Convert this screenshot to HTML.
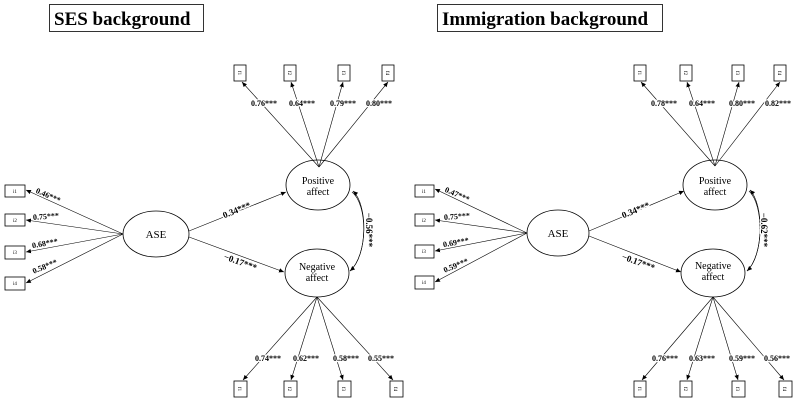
<!DOCTYPE html>
<html><head><meta charset="utf-8"><style>
body{margin:0;background:#fff}
svg{display:block}
text{font-family:"Liberation Serif",serif;fill:#000}
.b{font-weight:bold;font-size:8px;stroke:#fff;stroke-width:2.5px;paint-order:stroke;stroke-linejoin:round}
.s{font-size:5px}
.n{font-size:11px}
</style></head><body>
<svg width="797" height="407" viewBox="0 0 797 407" xmlns="http://www.w3.org/2000/svg">
<defs><marker id="a" markerWidth="6" markerHeight="6" refX="5" refY="3" orient="auto" markerUnits="userSpaceOnUse"><path d="M0,0.8 L5,3 L0,5.2z" fill="#000"/></marker></defs>
<g stroke="#000" fill="none" stroke-width="0.8">
<rect x="49.5" y="4.5" width="154" height="27"/>
<rect x="437.5" y="4.5" width="225" height="27"/>
</g>
<text x="54" y="25" style="font-size:19px;font-weight:bold">SES background</text>
<text x="442" y="25" style="font-size:19px;font-weight:bold">Immigration background</text>

<!-- LEFT PANEL -->
<g>
<g stroke="#000" fill="#fff" stroke-width="0.8">
<rect x="234" y="65" width="12" height="16"/><rect x="284" y="65" width="12" height="16"/><rect x="338" y="65" width="12" height="16"/><rect x="382" y="65" width="12" height="16"/>
<rect x="234" y="381" width="13" height="16"/><rect x="284" y="381" width="13" height="16"/><rect x="338" y="381" width="13" height="16"/><rect x="390" y="381" width="13" height="16"/>
<rect x="5" y="185" width="20" height="12"/><rect x="5" y="214" width="20" height="12"/><rect x="5" y="246" width="20" height="13"/><rect x="5" y="277" width="20" height="13"/>
<ellipse cx="318" cy="185" rx="32" ry="25"/><ellipse cx="317" cy="273" rx="32" ry="24"/><ellipse cx="156" cy="234" rx="33" ry="23"/>
</g>
<g stroke="#000" stroke-width="0.6" fill="none" marker-end="url(#a)">
<line x1="319" y1="167" x2="242" y2="82"/><line x1="319" y1="167" x2="291" y2="82"/><line x1="319" y1="167" x2="343" y2="82"/><line x1="319" y1="167" x2="388" y2="82"/>
<line x1="317" y1="297" x2="243" y2="380"/><line x1="317" y1="297" x2="291" y2="380"/><line x1="317" y1="297" x2="343" y2="380"/><line x1="317" y1="297" x2="393" y2="380"/>
<line x1="123" y1="234" x2="26" y2="190"/><line x1="123" y1="234" x2="26" y2="220"/><line x1="123" y1="234" x2="26" y2="252"/><line x1="123" y1="234" x2="26" y2="283"/>
<line x1="189" y1="231" x2="286" y2="192"/><line x1="189" y1="237" x2="284" y2="272"/>
<path d="M352,192 C368,205 368,255 350,271"/><path d="M350,271 C368,255 368,205 353,191" />
</g>
<g text-anchor="middle">
<text class="s" x="240" y="75" transform="rotate(90 240 73)">f1</text><text class="s" x="290" y="75" transform="rotate(90 290 73)">f2</text><text class="s" x="344" y="75" transform="rotate(90 344 73)">f3</text><text class="s" x="388" y="75" transform="rotate(90 388 73)">f4</text>
<text class="s" x="240" y="391" transform="rotate(90 240 389)">f1</text><text class="s" x="290" y="391" transform="rotate(90 290 389)">f2</text><text class="s" x="344" y="391" transform="rotate(90 344 389)">f3</text><text class="s" x="396" y="391" transform="rotate(90 396 389)">f4</text>
<text class="s" x="15" y="193">i1</text><text class="s" x="15" y="222">i2</text><text class="s" x="15" y="254">i3</text><text class="s" x="15" y="285">i4</text>
<text class="b" x="264" y="106">0.76***</text><text class="b" x="302" y="106">0.64***</text><text class="b" x="343" y="106">0.79***</text><text class="b" x="379" y="106">0.80***</text>
<text class="b" x="268" y="361">0.74***</text><text class="b" x="306" y="361">0.62***</text><text class="b" x="346" y="361">0.58***</text><text class="b" x="381" y="361">0.55***</text>
<text class="n" x="156" y="238">ASE</text>
<text class="n" x="318" y="184" style="font-size:10px">Positive</text><text class="n" x="318" y="195" style="font-size:10px">affect</text>
<text class="n" x="317" y="270" style="font-size:10px">Negative</text><text class="n" x="317" y="281" style="font-size:10px">affect</text>
<text class="b" x="48" y="198" transform="rotate(24 48 196)">0.46***</text>
<text class="b" x="46" y="219" transform="rotate(-4 46 217)">0.75***</text>
<text class="b" x="45" y="246" transform="rotate(-10 45 244)">0.68***</text>
<text class="b" x="45" y="269" transform="rotate(-22 45 267)">0.58***</text>
<text class="b" x="237" y="213" transform="rotate(-22 237 211)" style="font-size:9px">0.34***</text>
<text class="b" x="240" y="265" transform="rotate(20 240 263)" style="font-size:9px">−0.17***</text>
<text class="b" x="369" y="233" transform="rotate(90 369 230)" style="font-size:9px">−0.56***</text>
</g>
</g>

<!-- RIGHT PANEL -->
<g transform="translate(398,0)">
<g stroke="#000" fill="#fff" stroke-width="0.8">
<rect x="236" y="65" width="12" height="16"/><rect x="282" y="65" width="12" height="16"/><rect x="334" y="65" width="12" height="16"/><rect x="376" y="65" width="12" height="16"/>
<rect x="236" y="381" width="12" height="16"/><rect x="282" y="381" width="12" height="16"/><rect x="334" y="381" width="13" height="16"/><rect x="381" y="381" width="13" height="16"/>
<rect x="17" y="185" width="19" height="12"/><rect x="17" y="214" width="19" height="12"/><rect x="17" y="245" width="19" height="13"/><rect x="17" y="276" width="19" height="13"/>
<ellipse cx="317" cy="185" rx="32" ry="25"/><ellipse cx="315" cy="273" rx="32" ry="24"/><ellipse cx="160" cy="233" rx="31" ry="23"/>
</g>
<g stroke="#000" stroke-width="0.6" fill="none" marker-end="url(#a)">
<line x1="317" y1="166" x2="243" y2="82"/><line x1="317" y1="166" x2="289" y2="82"/><line x1="317" y1="166" x2="341" y2="82"/><line x1="317" y1="166" x2="382" y2="82"/>
<line x1="315" y1="297" x2="244" y2="380"/><line x1="315" y1="297" x2="289" y2="380"/><line x1="315" y1="297" x2="340" y2="380"/><line x1="315" y1="297" x2="386" y2="380"/>
<line x1="129" y1="233" x2="37" y2="189"/><line x1="129" y1="233" x2="37" y2="220"/><line x1="129" y1="233" x2="37" y2="251"/><line x1="129" y1="233" x2="37" y2="282"/>
<line x1="191" y1="231" x2="286" y2="191"/><line x1="191" y1="236" x2="283" y2="272"/>
<path d="M351,191 C366,205 366,255 349,271"/><path d="M349,271 C366,255 366,205 352,190"/>
</g>
<g text-anchor="middle">
<text class="s" x="242" y="75" transform="rotate(90 242 73)">f1</text><text class="s" x="288" y="75" transform="rotate(90 288 73)">f2</text><text class="s" x="340" y="75" transform="rotate(90 340 73)">f3</text><text class="s" x="382" y="75" transform="rotate(90 382 73)">f4</text>
<text class="s" x="242" y="391" transform="rotate(90 242 389)">f1</text><text class="s" x="288" y="391" transform="rotate(90 288 389)">f2</text><text class="s" x="340" y="391" transform="rotate(90 340 389)">f3</text><text class="s" x="387" y="391" transform="rotate(90 387 389)">f4</text>
<text class="s" x="26" y="193">i1</text><text class="s" x="26" y="222">i2</text><text class="s" x="26" y="253">i3</text><text class="s" x="26" y="284">i4</text>
<text class="b" x="266" y="106">0.78***</text><text class="b" x="304" y="106">0.64***</text><text class="b" x="344" y="106">0.80***</text><text class="b" x="380" y="106">0.82***</text>
<text class="b" x="267" y="361">0.76***</text><text class="b" x="304" y="361">0.63***</text><text class="b" x="344" y="361">0.59***</text><text class="b" x="379" y="361">0.56***</text>
<text class="n" x="160" y="237">ASE</text>
<text class="n" x="317" y="184" style="font-size:10px">Positive</text><text class="n" x="317" y="195" style="font-size:10px">affect</text>
<text class="n" x="315" y="269" style="font-size:10px">Negative</text><text class="n" x="315" y="280" style="font-size:10px">affect</text>
<text class="b" x="59" y="197" transform="rotate(24 59 195)">0.47***</text>
<text class="b" x="59" y="219" transform="rotate(-4 59 217)">0.75***</text>
<text class="b" x="58" y="245" transform="rotate(-10 58 243)">0.69***</text>
<text class="b" x="58" y="268" transform="rotate(-22 58 266)">0.59***</text>
<text class="b" x="238" y="213" transform="rotate(-22 238 211)" style="font-size:9px">0.34***</text>
<text class="b" x="240" y="265" transform="rotate(20 240 263)" style="font-size:9px">−0.17***</text>
<text class="b" x="366" y="233" transform="rotate(90 366 230)" style="font-size:9px">−0.62***</text>
</g>
</g>
</svg>
</body></html>
